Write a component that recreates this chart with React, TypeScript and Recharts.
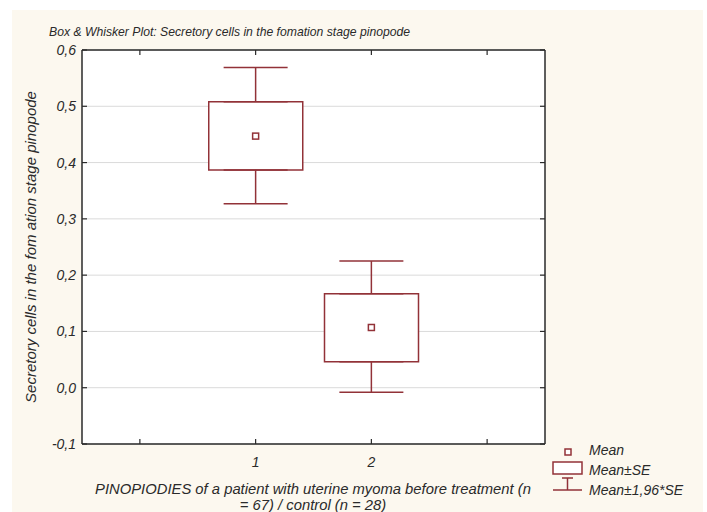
import React from "react";
import {
  ComposedChart,
  Bar,
  Line,
  ErrorBar,
  XAxis,
  YAxis,
  CartesianGrid,
} from "recharts";

const groups = ["0", "1", "2", "3"];
const xTickLabels = ["", "1", "2", ""];
const means: (number | null)[] = [null, 0.447, 0.107, null];
const seLow: (number | null)[] = [null, 0.387, 0.046, null];
const seHigh: (number | null)[] = [null, 0.508, 0.167, null];
const ciLow: (number | null)[] = [null, 0.327, -0.008, null];
const ciHigh: (number | null)[] = [null, 0.569, 0.225, null];
const yTicks = [-0.1, 0, 0.1, 0.2, 0.3, 0.4, 0.5, 0.6];

const title = "Box & Whisker Plot: Secretory cells in the fomation stage pinopode";
const yLabel = "Secretory cells in the fom ation stage pinopode";
const xLabel1 = "PINOPIODIES of a patient with uterine myoma before treatment (n";
const xLabel2 = "= 67) / control (n = 28)";

const RED = "#923238";
const INK = "#2a2a2a";
const FONT = "Arial, 'Liberation Sans', sans-serif";

const data = groups.map((g, i) => {
  const lo = seLow[i];
  const hi = seHigh[i];
  const cl = ciLow[i];
  const ch = ciHigh[i];
  const has = lo != null && hi != null && cl != null && ch != null;
  return {
    group: g,
    mean: means[i],
    box: has ? [lo, hi] : null,
    upper: has ? hi : null,
    upperErr: has ? [0, (ch as number) - (hi as number)] : null,
    lower: has ? lo : null,
    lowerErr: has ? [(lo as number) - (cl as number), 0] : null,
  };
});

const fmt = (v: number) => v.toFixed(1).replace(".", ",");

function LeftTick({ x, y, payload }: any) {
  return (
    <g>
      <line x1={x} x2={x + 5} y1={y} y2={y} stroke={INK} strokeWidth={1.2} />
      <text
        x={x - 6}
        y={y}
        textAnchor="end"
        dominantBaseline="central"
        fontSize={14}
        fontStyle="italic"
        fontFamily={FONT}
        fill={INK}
      >
        {fmt(payload.value)}
      </text>
    </g>
  );
}

function RightTick({ x, y }: any) {
  return <line x1={x} x2={x - 5} y1={y} y2={y} stroke={INK} strokeWidth={1.2} />;
}

function BottomTick({ x, y, index }: any) {
  return (
    <g>
      <line x1={x} x2={x} y1={y} y2={y - 5} stroke={INK} strokeWidth={1.2} />
      <text
        x={x}
        y={y + 18}
        textAnchor="middle"
        dominantBaseline="central"
        fontSize={14}
        fontStyle="italic"
        fontFamily={FONT}
        fill={INK}
      >
        {xTickLabels[index]}
      </text>
    </g>
  );
}

function TopTick({ x, y }: any) {
  return <line x1={x} x2={x} y1={y} y2={y + 5} stroke={INK} strokeWidth={1.2} />;
}

function MeanDot({ cx, cy }: any) {
  if (cx == null || cy == null) return null;
  return (
    <rect x={cx - 3} y={cy - 3} width={6} height={6} fill="#fff" stroke={RED} strokeWidth={1.5} />
  );
}

function YTitle({ viewBox }: any) {
  const x = viewBox.x + 30;
  const y = viewBox.y + viewBox.height / 2;
  return (
    <text
      x={x}
      y={y}
      transform={`rotate(-90, ${x}, ${y})`}
      textAnchor="middle"
      dominantBaseline="central"
      fontSize={15}
      fontStyle="italic"
      fontFamily={FONT}
      fill={INK}
    >
      {yLabel}
    </text>
  );
}

const legendText: React.CSSProperties = {
  position: "absolute",
  left: 589,
  fontSize: 14,
  fontStyle: "italic",
  fontFamily: FONT,
  color: INK,
  lineHeight: "16px",
  whiteSpace: "nowrap",
};

export default function App() {
  return (
    <div style={{ position: "relative", width: 707, height: 512, background: "#fff", overflow: "hidden" }}>
      <style>{`body{margin:0}`}</style>
      <div style={{ position: "absolute", left: 12, top: 10, width: 691, height: 502, background: "#fcf8ef" }} />
      <div style={{ position: "absolute", left: 0, top: 0 }}>
        <ComposedChart width={707} height={512} data={data} margin={{ top: 49, right: 161, bottom: 0, left: 0 }}>
          <CartesianGrid vertical={false} stroke="#dadada" fill="#ffffff" fillOpacity={1} />
          <XAxis
            dataKey="group"
            height={68}
            tickSize={0}
            tickMargin={0}
            tickLine={false}
            axisLine={{ stroke: INK, strokeWidth: 1.5 }}
            tick={<BottomTick />}
            interval={0}
          />
          <XAxis
            xAxisId="top"
            dataKey="group"
            orientation="top"
            height={1}
            tickSize={0}
            tickMargin={0}
            tickLine={false}
            axisLine={{ stroke: INK, strokeWidth: 1.5 }}
            tick={<TopTick />}
            interval={0}
          />
          <YAxis
            width={82}
            domain={[-0.1, 0.6]}
            ticks={yTicks}
            allowDataOverflow
            tickSize={0}
            tickMargin={0}
            tickLine={false}
            axisLine={{ stroke: INK, strokeWidth: 1.5 }}
            tick={<LeftTick />}
            interval={0}
            label={{ content: <YTitle /> } as any}
          />
          <YAxis
            yAxisId="right"
            orientation="right"
            width={1}
            domain={[-0.1, 0.6]}
            ticks={yTicks}
            allowDataOverflow
            tickSize={0}
            tickMargin={0}
            tickLine={false}
            axisLine={{ stroke: INK, strokeWidth: 1.5 }}
            tick={<RightTick />}
            interval={0}
          />
          <Bar
            dataKey="box"
            barSize={94}
            fill="#ffffff"
            stroke={RED}
            strokeWidth={1.5}
            isAnimationActive={false}
          />
          <Line dataKey="upper" stroke="none" dot={false} activeDot={false} isAnimationActive={false}>
            <ErrorBar dataKey="upperErr" width={32} stroke={RED} strokeWidth={1.5} isAnimationActive={false} />
          </Line>
          <Line dataKey="lower" stroke="none" dot={false} activeDot={false} isAnimationActive={false}>
            <ErrorBar dataKey="lowerErr" width={32} stroke={RED} strokeWidth={1.5} isAnimationActive={false} />
          </Line>
          <Line
            dataKey="mean"
            stroke="none"
            dot={<MeanDot />}
            activeDot={false}
            isAnimationActive={false}
          />
        </ComposedChart>
      </div>
      <div
        style={{
          position: "absolute",
          left: 49,
          top: 25,
          fontSize: 12.2,
          fontStyle: "italic",
          fontFamily: FONT,
          color: INK,
          lineHeight: "14px",
          whiteSpace: "nowrap",
        }}
      >
        {title}
      </div>
      <div
        style={{
          position: "absolute",
          left: 13,
          width: 600,
          top: 481,
          textAlign: "center",
          fontSize: 14.8,
          fontStyle: "italic",
          fontFamily: FONT,
          color: INK,
          lineHeight: "16px",
        }}
      >
        <div style={{ whiteSpace: "nowrap" }}>{xLabel1}</div>
        <div style={{ whiteSpace: "nowrap" }}>{xLabel2}</div>
      </div>
      <svg style={{ position: "absolute", left: 550, top: 443 }} width={36} height={52}>
        <rect x={15} y={6} width={6} height={6} fill="#fff" stroke={RED} strokeWidth={1.5} />
        <rect x={3} y={19} width={29} height={12} fill="#fff" stroke={RED} strokeWidth={1.5} />
        <line x1={12} x2={23} y1={35} y2={35} stroke={RED} strokeWidth={1.5} />
        <line x1={17.5} x2={17.5} y1={35} y2={47} stroke={RED} strokeWidth={1.5} />
        <line x1={3} x2={32} y1={47} y2={47} stroke={RED} strokeWidth={1.5} />
      </svg>
      <div style={{ ...legendText, top: 442 }}>Mean</div>
      <div style={{ ...legendText, top: 462 }}>Mean±SE</div>
      <div style={{ ...legendText, top: 482 }}>Mean±1,96*SE</div>
    </div>
  );
}
